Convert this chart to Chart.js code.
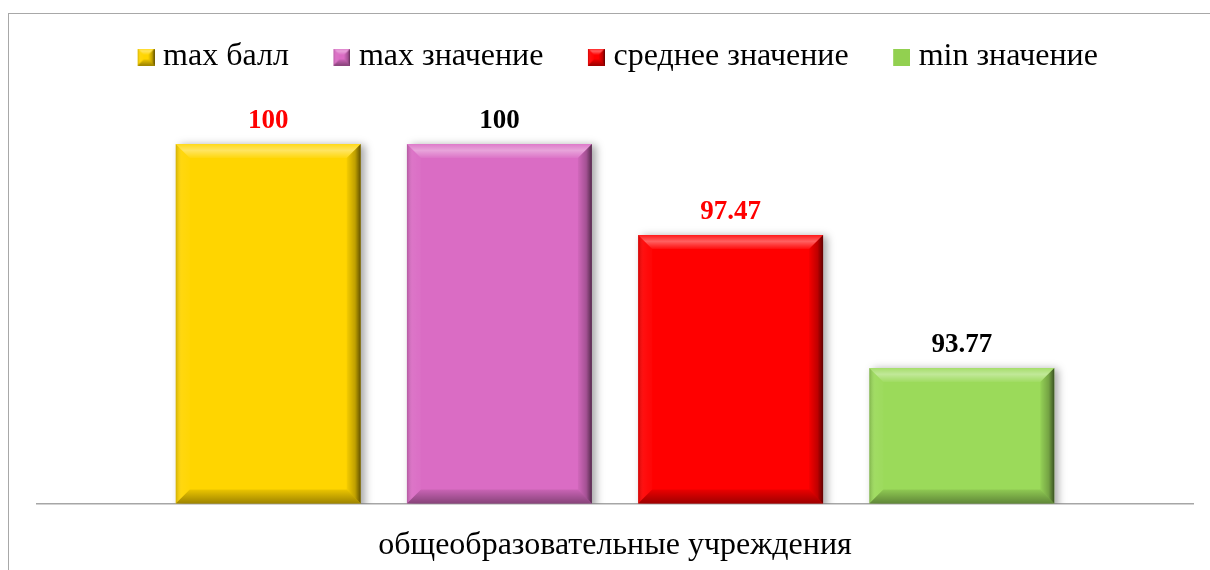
<!DOCTYPE html>
<html><head><meta charset="utf-8">
<script src="https://cdn.jsdelivr.net/npm/chart.js@4"></script>
<style>
html,body{margin:0;padding:0;background:#fff;overflow:hidden;}
#wrap{position:relative;width:1210px;height:570px;overflow:hidden;}
#frame{position:absolute;left:8px;top:13px;width:1300px;height:700px;border-left:1px solid #A8A8A8;border-top:1px solid #A8A8A8;pointer-events:none;}
canvas{position:absolute;left:0;top:0;}
</style></head><body>
<div id="wrap"><canvas id="c" width="1210" height="570"></canvas><div id="frame"></div></div>
<script>
// ---- data ----
const categories = ['общеобразовательные учреждения'];
const seriesNames = ['max балл', 'max значение', 'среднее значение', 'min значение'];
const maxBall = [100];
const maxValue = [100];
const avgValue = [97.47];
const minValue = [93.77];

// ---- styles ----
const barColors = ['#FFD500', '#DA6CC4', '#FF0000', '#9BDA5A'];
const labelColors = ['#FF0000', '#000000', '#FF0000', '#000000'];
const legendBevel = [true, true, true, false];
const legendColors = ['#FFD500', '#DA6CC4', '#FF0000', '#92D050'];
const SERIF = '"Liberation Serif", "Times New Roman", serif';

function poly(ctx, pts, fill) {
  ctx.beginPath();
  ctx.moveTo(pts[0][0], pts[0][1]);
  for (let i = 1; i < pts.length; i++) ctx.lineTo(pts[i][0], pts[i][1]);
  ctx.closePath();
  ctx.fillStyle = fill;
  ctx.fill();
}
function drawBevel(ctx, l, t, r, b, bw) {
  let g = ctx.createLinearGradient(0, t, 0, t + bw);
  g.addColorStop(0, 'rgba(255,255,255,0.10)');
  g.addColorStop(0.45, 'rgba(255,255,255,0.38)');
  g.addColorStop(1, 'rgba(255,255,255,0.05)');
  poly(ctx, [[l, t], [r, t], [r - bw, t + bw], [l + bw, t + bw]], g);
  g = ctx.createLinearGradient(l, 0, l + bw, 0);
  g.addColorStop(0, 'rgba(0,0,0,0.18)');
  g.addColorStop(0.4, 'rgba(255,255,255,0.06)');
  g.addColorStop(1, 'rgba(255,255,255,0.02)');
  poly(ctx, [[l, t], [l + bw, t + bw], [l + bw, b - bw], [l, b]], g);
  g = ctx.createLinearGradient(r - bw, 0, r, 0);
  g.addColorStop(0, 'rgba(0,0,0,0.04)');
  g.addColorStop(0.6, 'rgba(0,0,0,0.25)');
  g.addColorStop(1, 'rgba(0,0,0,0.62)');
  poly(ctx, [[r, t], [r, b], [r - bw, b - bw], [r - bw, t + bw]], g);
  g = ctx.createLinearGradient(0, b - bw, 0, b);
  g.addColorStop(0, 'rgba(0,0,0,0.08)');
  g.addColorStop(1, 'rgba(0,0,0,0.38)');
  poly(ctx, [[l, b], [r, b], [r - bw, b - bw], [l + bw, b - bw]], g);
}
// legend icon: transparent canvas 30 wide, 17x17 square at its right end
function legendIcon(color, bevel) {
  const c = document.createElement('canvas');
  c.width = 30; c.height = 17;
  const x = c.getContext('2d');
  x.fillStyle = color;
  x.fillRect(13, 0, 17, 17);
  if (bevel) drawBevel(x, 13, 0, 30, 17, 6);
  return c;
}
const icons = legendColors.map((c, i) => legendIcon(c, legendBevel[i]));

const seriesData = [maxBall, maxValue, avgValue, minValue];

const effects = {
  id: 'effects',
  beforeDatasetsDraw(chart) {
    const ctx = chart.ctx;
    ctx.save();
    ctx.shadowColor = 'rgba(0,0,0,0.35)';
    ctx.shadowBlur = 8;
    ctx.shadowOffsetX = 4;
    ctx.shadowOffsetY = 1;
  },
  afterDatasetsDraw(chart) {
    const ctx = chart.ctx;
    ctx.restore();
    const area = chart.chartArea;
    chart.data.datasets.forEach((ds, i) => {
      const meta = chart.getDatasetMeta(i);
      meta.data.forEach((el, j) => {
        const l = el.x - el.width / 2, r = el.x + el.width / 2;
        const t = Math.max(Math.min(el.y, el.base), area.top);
        const b = Math.min(Math.max(el.y, el.base), area.bottom);
        ctx.save();
        drawBevel(ctx, l, t, r, b, 14);
        ctx.restore();
        ctx.save();
        ctx.font = 'bold 27px ' + SERIF;
        ctx.fillStyle = labelColors[i];
        ctx.textAlign = 'center';
        ctx.textBaseline = 'alphabetic';
        ctx.fillText(String(ds.data[j]), el.x, el.y - 16);
        ctx.restore();
      });
    });
  }
};

new Chart(document.getElementById('c'), {
  type: 'bar',
  data: {
    labels: categories,
    datasets: seriesNames.map((name, i) => ({
      label: name,
      data: seriesData[i],
      backgroundColor: barColors[i],
      borderWidth: 0,
      barPercentage: 0.8,
      categoryPercentage: 0.8
    }))
  },
  options: {
    responsive: false,
    animation: false,
    events: [],
    layout: { padding: { left: 37, right: 17, top: 2, bottom: 0 } },
    plugins: {
      legend: {
        position: 'top',
        labels: {
          font: { family: SERIF, size: 32 },
          color: '#000',
          padding: 39,
          usePointStyle: true,
          pointStyleWidth: 15,
          generateLabels(chart) {
            return chart.data.datasets.map((ds, i) => ({
              text: ds.label,
              pointStyle: icons[i],
              fillStyle: legendColors[i],
              strokeStyle: legendColors[i],
              lineWidth: 0,
              hidden: false,
              datasetIndex: i,
              fontColor: '#000'
            }));
          }
        }
      },
      tooltip: { enabled: false }
    },
    scales: {
      x: {
        grid: { display: true, drawOnChartArea: false, drawTicks: false, color: 'transparent' },
        border: { display: true, color: '#A6A6A6', width: 1.5 },
        afterFit(scale) { scale.height = 66.5; },
        ticks: {
          padding: 23,
          color: '#000',
          font: { family: SERIF, size: 32 }
        }
      },
      y: {
        display: false,
        min: 90,
        max: 101.7
      }
    }
  },
  plugins: [effects]
});
</script>
</body></html>
